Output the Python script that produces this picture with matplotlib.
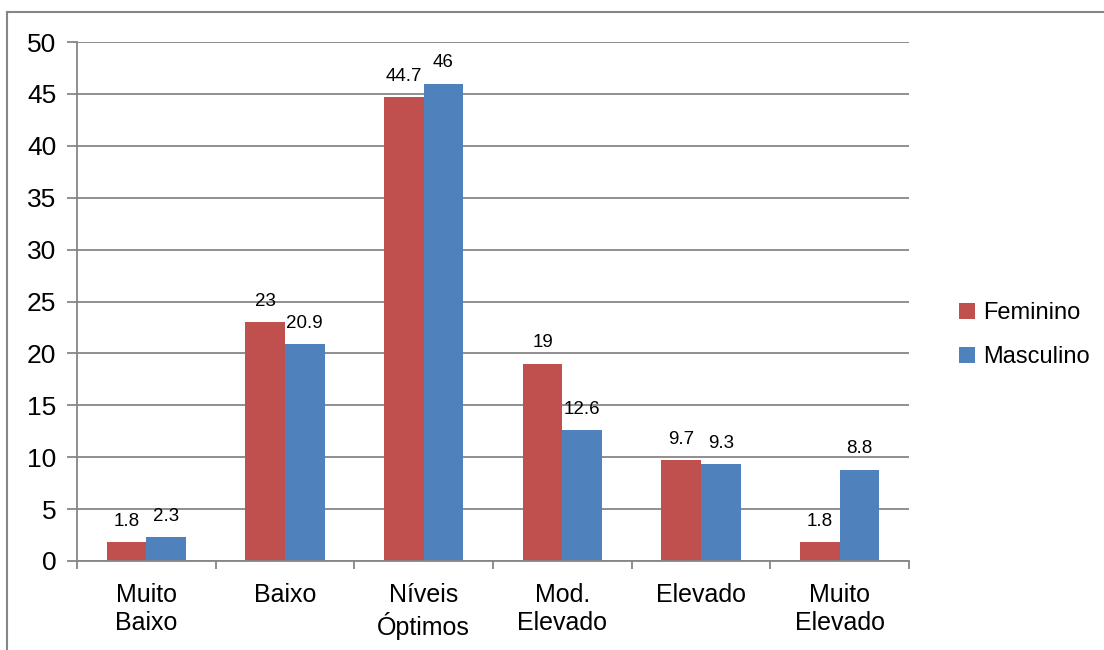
import matplotlib
matplotlib.use("Agg")
import matplotlib.pyplot as plt
from matplotlib.lines import Line2D
import numpy as np

plt.rcParams['font.family'] = ['Liberation Sans', 'DejaVu Sans']

# data
categories = ["Muito\nBaixo", "Baixo", "Níveis\nÓptimos", "Mod.\nElevado", "Elevado", "Muito\nElevado"]
feminino = [1.8, 23, 44.7, 19, 9.7, 1.8]
masculino = [2.3, 20.9, 46, 12.6, 9.3, 8.8]
series_names = ["Feminino", "Masculino"]

red = "#C0504D"
blue = "#4F81BD"
gray = "#868686"

fig = plt.figure(figsize=(11.04, 6.5), dpi=100)
# plot area in pixels: x 77..909, y 42..561
ax = fig.add_axes([77 / 1104, 1 - 561 / 650, (909 - 77) / 1104, (561 - 42) / 650])

x = np.arange(len(categories))
w = 0.285
b1 = ax.bar(x - w / 2, feminino, w, color=red, label=series_names[0])
b2 = ax.bar(x + w / 2, masculino, w, color=blue, label=series_names[1])

for bars, vals in [(b1, feminino), (b2, masculino)]:
    for r, v in zip(bars, vals):
        lbl = f"{v:g}"
        ax.annotate(lbl, (r.get_x() + r.get_width() / 2, v), xytext=(0, 9),
                    textcoords="offset points", ha="center", va="bottom", fontsize=13.5)

ax.set_xlim(-0.5, len(categories) - 0.5)
ax.set_ylim(0, 50)
ax.set_yticks(range(0, 51, 5))
ax.yaxis.grid(True, color=gray, linewidth=1.3)
ax.set_axisbelow(True)

ax.set_xticks(x)
ax.set_xticklabels(categories, fontsize=18, linespacing=1.2)
ax.set_xticks(np.arange(-0.5, len(categories)), minor=True)
ax.tick_params(axis="x", which="major", length=0, pad=16)
ax.tick_params(axis="x", which="minor", length=6, color=gray, width=1.3)
ax.tick_params(axis="y", length=7, color=gray, width=1.3, labelsize=19, pad=8)

for s in ["top", "right"]:
    ax.spines[s].set_visible(False)
for s in ["left", "bottom"]:
    ax.spines[s].set_color(gray)
    ax.spines[s].set_linewidth(1.3)

ax.legend(loc="center left", bbox_to_anchor=(1.035, 0.435), frameon=False,
          fontsize=17, handlelength=0.65, handleheight=0.65, handletextpad=0.35,
          labelspacing=0.95)

# outer chart border (top and left visible)
fig.add_artist(Line2D([7 / 1104, 7 / 1104], [0, 1 - 12 / 650], color=gray, linewidth=1.5,
                      transform=fig.transFigure))
fig.add_artist(Line2D([7 / 1104, 1], [1 - 12 / 650, 1 - 12 / 650], color=gray, linewidth=1.5,
                      transform=fig.transFigure))

fig.savefig("out.png", dpi=100)
